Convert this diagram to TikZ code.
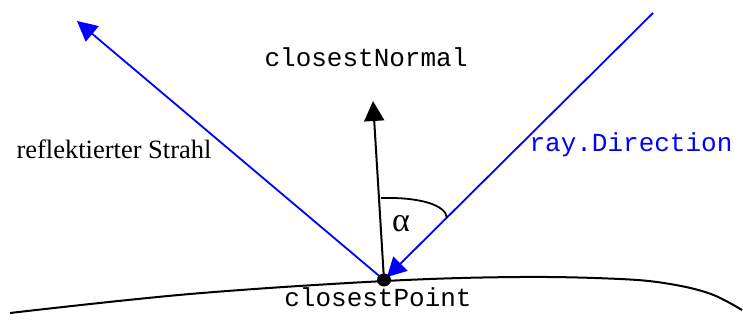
\documentclass[tikz,border=0pt]{standalone}
\usepackage{fontspec}
\setmainfont{Liberation Serif}
\setmonofont{Liberation Mono}
\usetikzlibrary{arrows.meta}
\definecolor{rayblue}{RGB}{0,0,255}
\begin{document}
\begin{tikzpicture}[x=1pt,y=-1pt,
  blueline/.style={draw=rayblue,line width=1.8pt},
  blackline/.style={draw=black,line width=2pt},
  bigtip/.style={-{Triangle[length=20pt,width=20pt]}},
  mono/.style={font=\fontsize{26}{30}\selectfont\ttfamily,inner sep=0pt,anchor=base},
  serif/.style={font=\fontsize{26.5}{30}\selectfont,inner sep=0pt,anchor=base}]
\useasboundingbox (0,0) rectangle (743,320);
% surface
\draw[line width=2pt] plot[smooth,tension=0.6] coordinates {(10,313) (190,294) (385,281) (520,277) (620,279) (670,284) (711,294) (742,310)};
\coordinate (P) at (384,280);
\coordinate (N) at (373,101);
\coordinate (R) at (77,21);
\coordinate (S) at (653,13);
\coordinate (Q) at (387,277);
\coordinate (A1) at (381,198);
\coordinate (A2) at (447,218);
% rays
\draw[blueline,bigtip] (P) -- (R);
\draw[blueline,-{Triangle[length=19pt,width=20pt]}] (S) -- (Q);
\draw[blackline,bigtip] (P) -- (N);
% angle arc
\draw[line width=1.8pt] (A1) .. controls (420,197) and (446,205) .. (A2);
\fill (P) ellipse (7pt and 6.5pt);
% labels
\node[mono] (cn) at (366,67) {closestNormal};
\node[mono,text=rayblue] (rd) at (631,152) {ray.Direction};
\node[mono] (cp) at (378,306) {closestPoint};
\node[serif] (rs) at (114,159) {reflektierter Strahl};
\node[serif,font=\fontsize{34}{36}\selectfont] (al) at (401,231) {α};
\end{tikzpicture}
\end{document}
